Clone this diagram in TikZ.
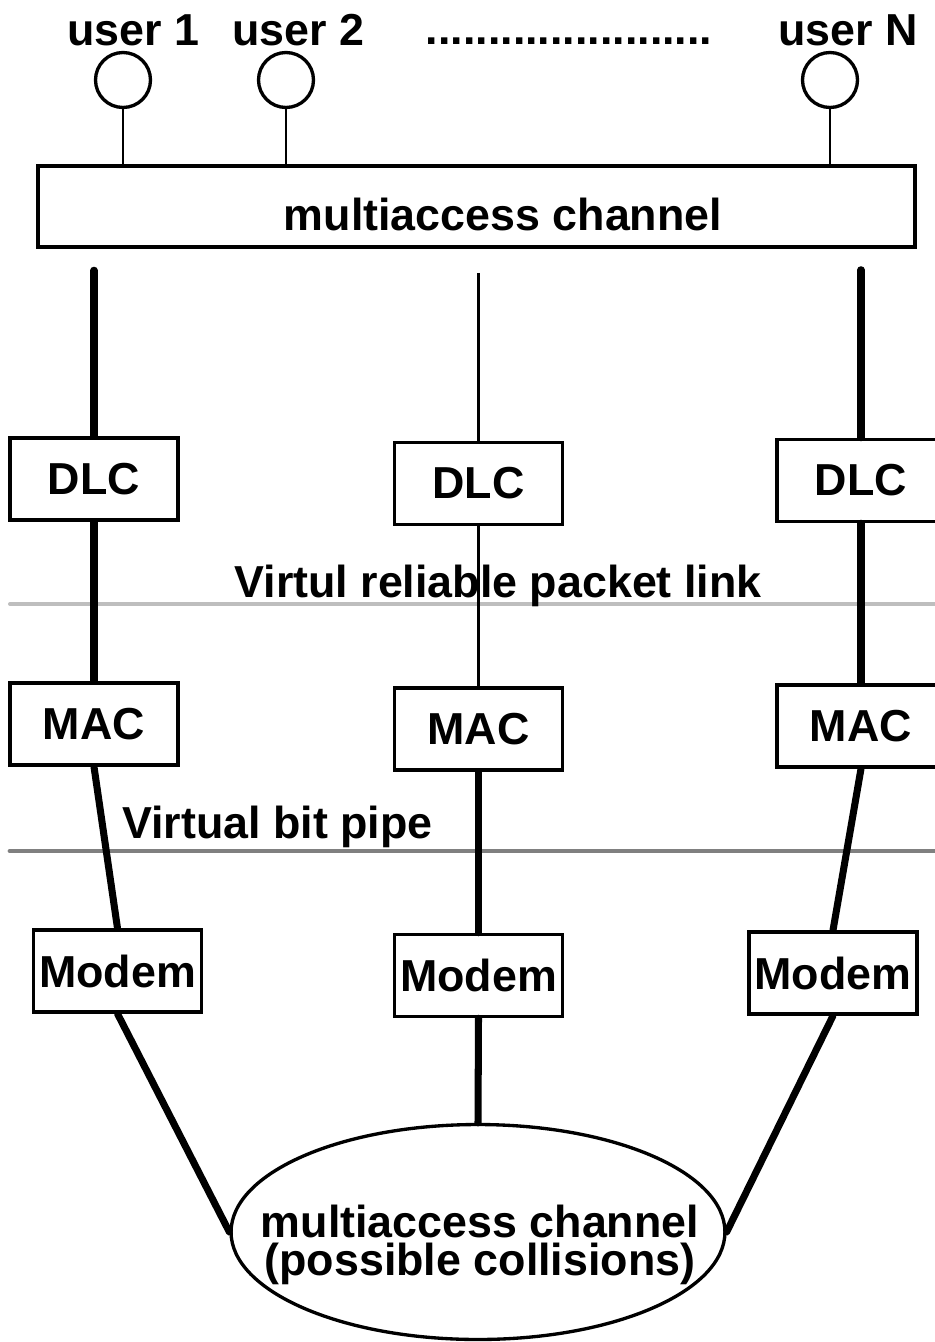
\documentclass[tikz,border=0pt]{standalone}
\usepackage{fontspec}
\setmainfont{Liberation Sans}
\usetikzlibrary{shapes.geometric}
\definecolor{lineLight}{HTML}{BEBEBE}
\definecolor{lineDark}{HTML}{808080}

\begin{document}
\begin{tikzpicture}[
  x=0.02cm, y=-0.02cm,
  font=\fontsize{25.5}{22}\selectfont\bfseries,
  layerbox/.style={draw, line width=2pt, minimum width=3.36cm,
                   minimum height=1.64cm, inner sep=0pt},
  usr/.style={draw, circle, line width=1.9pt, minimum size=1.1cm, inner sep=0pt},
  txt/.style={inner sep=0pt},
  heavy/.style={line width=4pt, line cap=round},
  light/.style={line width=1.2pt},
  stem/.style={line width=1.6pt},
]
  \useasboundingbox (0,0) rectangle (935,1342);

  % boundaries between layers
  \draw[lineLight, line width=2.3pt, line cap=round] (10,604) -- (945,604);
  \draw[lineDark, line width=2.8pt, line cap=round] (10,851) -- (945,851);
  \node[txt, anchor=base] (linklbl) at (498,597) {Virtul reliable packet link};
  \node[txt, anchor=base west] (pipelbl) at (122,838) {Virtual bit pipe};

  % users on the shared channel
  \node[txt] (n1) at (133,30) {user 1};
  \node[txt] (n2) at (298,30) {user 2};
  \node[txt, anchor=base] (dots) at (569,44) {.......................};
  \node[txt] (nN) at (848,30) {user N};
  \node[usr] (u1) at (123,80) {};
  \node[usr] (u2) at (286,80) {};
  \node[usr] (uN) at (830,80) {};
  \node[layerbox, minimum width=17.54cm, minimum height=1.62cm] (bus) at (476.5,206.5) {};
  \node[txt, anchor=base] (bustext) at (503,230) {multiaccess channel};
  \draw[stem] (u1.south) -- (u1.south |- bus.north);
  \draw[stem] (u2.south) -- (u2.south |- bus.north);
  \draw[stem] (uN.south) -- (uN.south |- bus.north);

  % protocol stacks
  \node[layerbox] (dlc1) at (94,479) {DLC};
  \node[layerbox] (dlc2) at (478.5,483.5) {DLC};
  \node[layerbox] (dlc3) at (861,480.5) {DLC};
  \node[layerbox] (mac1) at (94,724) {MAC};
  \node[layerbox] (mac2) at (478.5,729) {MAC};
  \node[layerbox] (mac3) at (861,726) {MAC};
  \node[layerbox] (mod1) at (117.5,971) {Modem};
  \node[layerbox] (mod2) at (478.5,975.5) {Modem};
  \node[layerbox] (mod3) at (833,973) {Modem};

  \path (dlc1.north) ++(0,-166) coordinate (t1);
  \path (dlc2.north) ++(0,-168) coordinate (t2);
  \path (dlc3.north) ++(0,-168) coordinate (t3);
  \draw[heavy] (t1) -- (dlc1.north);
  \draw[light] (t2) -- (dlc2.north);
  \draw[heavy] (t3) -- (dlc3.north);
  \draw[heavy] (dlc1.south) -- (mac1.north);
  \draw[light] (dlc2.south) -- (mac2.north);
  \draw[heavy] (dlc3.south) -- (mac3.north);
  \draw[heavy] (mac1.south) -- (mod1.north);
  \draw[heavy] (mac2.south) -- (mod2.north);
  \draw[heavy] (mac3.south) -- (mod3.north);

  % physical channel
  \node[draw, ellipse, line width=1.9pt, minimum width=9.88cm,
        minimum height=4.3cm, inner sep=0pt] (coll) at (478,1232) {};
  \node[txt, align=center] (colltext) at (480,1245)
    {multiaccess channel\\(possible collisions)};
  \draw[heavy] (mod1.south) -- (coll.west);
  \draw[heavy] (mod2.south) -- (coll.north);
  \draw[heavy] (mod3.south) -- (coll.east);
\end{tikzpicture}
\end{document}
